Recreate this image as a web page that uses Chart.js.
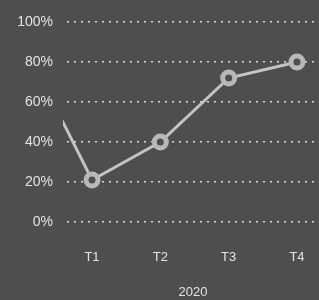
<!DOCTYPE html>
<html>
<head>
<meta charset="utf-8">
<script src="https://cdn.jsdelivr.net/npm/chart.js@4"></script>
<style>
    html, body { margin: 0; padding: 0; background: #4e4e4e; overflow: hidden; }
    canvas { display: block; }
</style>
</head>
<body>
<canvas id="chart" width="319" height="300"></canvas>
<script>
// quarters, the first point sits left of the visible area
const quarters = ['', 'T1', 'T2', 'T3', 'T4']
const shares = [89, 21, 40, 72, 80]
const yearLabel = '2020'
const yTicks = [0, 20, 40, 60, 80, 100]

const textColor = '#e4e4e4'
const font = {family: "'Liberation Sans', Arial, sans-serif", size: 13}

const bgPlugin = {
    id: 'bg',
    beforeDraw(chart) {
        const ctx = chart.ctx
        ctx.save()
        ctx.fillStyle = '#4e4e4e'
        ctx.fillRect(0, 0, chart.width, chart.height)
        ctx.restore()
    }
}

new Chart(document.getElementById('chart'), {
    type: 'line',
    plugins: [bgPlugin],
    data: {
        datasets: [{
            data: shares.map((v, i) => ({x: i, y: v})),
            borderColor: '#c4c4c4',
            borderWidth: 3,
            pointRadius: 6,
            pointBorderWidth: 5,
            pointBorderColor: '#b8b8b8',
            pointBackgroundColor: '#4e4e4e',
            tension: 0,
            clip: {left: 4, right: 20, top: 20, bottom: 20}
        }]
    },
    options: {
        responsive: false,
        animation: false,
        layout: {autoPadding: false, padding: {top: 22, right: 0, left: 0, bottom: 0}},
        plugins: {
            legend: {display: false},
            tooltip: {enabled: false}
        },
        scales: {
            x: {
                type: 'linear',
                min: 0.634,
                max: 4.322,
                afterFit: scale => {
                    scale.height = 78
                    scale.paddingLeft = 0
                    scale.paddingRight = 0
                },
                grid: {display: false, drawTicks: false},
                border: {display: false},
                ticks: {
                    stepSize: 1,
                    includeBounds: false,
                    color: textColor,
                    font: font,
                    padding: 28,
                    maxRotation: 0,
                    callback: v => quarters[v] || ''
                },
                title: {
                    display: true,
                    text: yearLabel,
                    color: textColor,
                    font: font,
                    padding: {top: 16, bottom: 0}
                }
            },
            y: {
                min: 0,
                max: 100,
                afterFit: scale => {
                    scale.width = 67
                    scale.paddingTop = 0
                    scale.paddingBottom = 0
                },
                afterBuildTicks: scale => { scale.ticks = yTicks.map(v => ({value: v})) },
                grid: {
                    color: '#dadada',
                    lineWidth: 1.5,
                    drawTicks: false
                },
                border: {display: false, dash: [2, 5]},
                ticks: {
                    color: textColor,
                    font: {family: font.family, size: 14},
                    padding: 14,
                    callback: v => v + '%'
                }
            }
        }
    }
})
</script>
</body>
</html>
